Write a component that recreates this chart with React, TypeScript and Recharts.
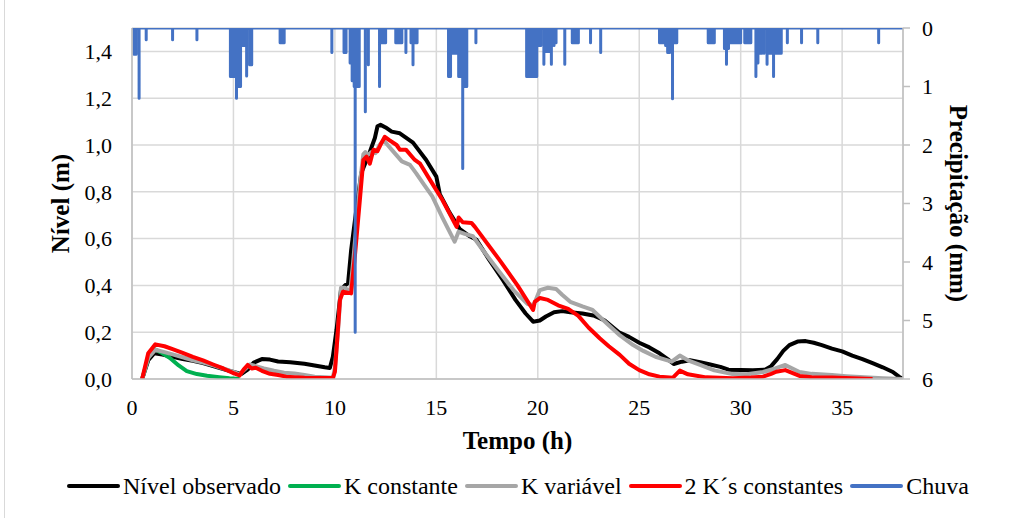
import React from "react";
import { LineChart, Line, XAxis, YAxis, CartesianGrid } from "recharts";

const FONT = '"Liberation Serif", "Times New Roman", serif';

// tempo (h), nível (m)
const nivelObservado: [number, number][] = [
  [0.5, 0], [0.8, 0.08], [1.1, 0.11], [1.5, 0.105], [2, 0.095], [2.5, 0.085], [3, 0.078],
  [3.5, 0.068], [4, 0.055], [4.5, 0.042], [5, 0.03], [5.4, 0.022], [5.7, 0.04], [6.0, 0.07],
  [6.4, 0.085], [6.8, 0.083], [7.2, 0.075], [7.8, 0.072], [8.5, 0.065], [9, 0.058], [9.5, 0.05],
  [9.75, 0.047], [9.9, 0.095], [10.08, 0.21], [10.3, 0.38], [10.5, 0.4], [10.65, 0.41],
  [10.8, 0.55], [11.05, 0.72], [11.3, 0.88], [11.7, 0.965], [11.97, 1.03], [12.1, 1.08],
  [12.25, 1.086], [12.5, 1.075], [12.8, 1.057], [13.2, 1.05], [13.85, 1.01], [14.5, 0.936],
  [15.0, 0.865], [15.17, 0.79], [15.66, 0.71], [16.16, 0.64], [16.65, 0.61], [16.98, 0.595],
  [17.6, 0.51], [18.3, 0.42], [18.9, 0.338], [19.4, 0.28], [19.77, 0.245], [20.1, 0.25],
  [20.4, 0.267], [20.8, 0.285], [21.2, 0.29], [21.6, 0.285], [22.2, 0.28], [22.8, 0.27],
  [23.3, 0.25], [24.0, 0.2], [24.5, 0.18], [25.0, 0.155], [25.5, 0.135], [26.0, 0.11],
  [26.4, 0.085], [26.7, 0.064], [27.1, 0.074], [27.5, 0.08], [28.0, 0.072], [28.5, 0.062],
  [29.0, 0.052], [29.4, 0.04], [30.0, 0.038], [30.6, 0.037], [31.2, 0.04], [31.5, 0.055],
  [31.8, 0.085], [32.1, 0.12], [32.4, 0.145], [32.8, 0.16], [33.2, 0.162], [33.6, 0.155],
  [34.0, 0.145], [34.5, 0.13], [35.0, 0.118], [35.5, 0.1], [36.0, 0.085], [36.5, 0.068],
  [37.0, 0.05], [37.5, 0.03], [37.8, 0.01], [38.0, 0],
];

const kConstante: [number, number][] = [
  [0.5, 0], [0.8, 0.09], [1.1, 0.128], [1.4, 0.115], [1.87, 0.09], [2.3, 0.058], [2.7, 0.034],
  [3.2, 0.021], [3.7, 0.014], [4.3, 0.008], [4.8, 0.003], [5.3, 0],
];

const kVariavel: [number, number][] = [
  [0.5, 0], [0.8, 0.09], [1.15, 0.125], [1.6, 0.115], [2, 0.105], [2.5, 0.093], [3, 0.08],
  [3.5, 0.07], [4, 0.058], [4.5, 0.045], [5, 0.03], [5.3, 0.02], [5.6, 0.045], [5.8, 0.062],
  [6.1, 0.055], [6.5, 0.045], [7, 0.035], [7.5, 0.027], [8, 0.024], [8.5, 0.017], [9, 0.01],
  [9.5, 0.007], [9.9, 0.005], [10.0, 0.05], [10.15, 0.2], [10.3, 0.39], [10.5, 0.39],
  [10.75, 0.37], [10.9, 0.5], [11.1, 0.7], [11.25, 0.85], [11.4, 0.96], [11.5, 0.97],
  [11.6, 0.955], [11.8, 0.97], [12.0, 0.965], [12.2, 1.0], [12.4, 1.02], [12.6, 1.0],
  [12.85, 0.975], [13.0, 0.96], [13.3, 0.93], [13.7, 0.915], [14.0, 0.88], [14.4, 0.83],
  [14.8, 0.78], [15.3, 0.69], [15.9, 0.587], [16.1, 0.63], [16.4, 0.62], [16.8, 0.61],
  [17.3, 0.55], [18, 0.47], [18.8, 0.38], [19.5, 0.32], [19.8, 0.316], [20.1, 0.38],
  [20.5, 0.39], [20.9, 0.385], [21.2, 0.36], [21.6, 0.33], [22.2, 0.31], [22.7, 0.295],
  [23.05, 0.266], [23.5, 0.23], [24.0, 0.19], [24.7, 0.145], [25.2, 0.12], [25.8, 0.095],
  [26.6, 0.074], [27.0, 0.1], [27.4, 0.08], [28.0, 0.06], [28.7, 0.037], [29.6, 0.021],
  [30.3, 0.02], [31.1, 0.03], [31.7, 0.045], [32.2, 0.06], [32.9, 0.03], [33.5, 0.022],
  [34.5, 0.017], [35.2, 0.012], [36.1, 0.007], [37, 0.003], [38, 0],
];

const doisKConstantes: [number, number][] = [
  [0.5, 0], [0.8, 0.11], [1.15, 0.148], [1.6, 0.14], [2, 0.128], [2.5, 0.112], [3, 0.095],
  [3.5, 0.08], [4, 0.062], [4.5, 0.045], [5, 0.025], [5.3, 0.015], [5.5, 0.04], [5.7, 0.06],
  [5.9, 0.045], [6.1, 0.048], [6.4, 0.035], [6.8, 0.022], [7.2, 0.017], [7.6, 0.01],
  [8, 0.008], [8.5, 0.005], [9, 0.004], [9.9, 0.004], [10.0, 0.03], [10.08, 0.124],
  [10.25, 0.338], [10.4, 0.373], [10.8, 0.366], [10.98, 0.52], [11.23, 0.765], [11.4, 0.935],
  [11.56, 0.95], [11.72, 0.92], [11.9, 0.98], [12.1, 0.974], [12.3, 1.01], [12.46, 1.035],
  [12.7, 1.02], [13.04, 1.0], [13.2, 0.98], [13.5, 0.98], [13.94, 0.936], [14.2, 0.92],
  [14.8, 0.835], [15.3, 0.765], [16.0, 0.65], [16.1, 0.69], [16.3, 0.67], [16.73, 0.667],
  [16.9, 0.65], [18.1, 0.51], [19.0, 0.4], [19.77, 0.295], [19.85, 0.33], [20.1, 0.346],
  [20.5, 0.338], [21.0, 0.315], [21.5, 0.3], [22.0, 0.27], [22.5, 0.22], [23.05, 0.174],
  [23.5, 0.14], [24.04, 0.103], [24.5, 0.065], [25.0, 0.038], [25.5, 0.02], [26.0, 0.01],
  [26.65, 0.005], [27.0, 0.036], [27.4, 0.02], [28.3, 0.007], [29.6, 0.003], [30.5, 0.006],
  [31.1, 0.01], [31.5, 0.022], [31.75, 0.031], [32.2, 0.038], [32.9, 0.013], [33.5, 0.008],
  [34.5, 0.006], [35.5, 0.003], [36.5, 0],
];

// chuva: instante (h) e lâmina (mm)
const chuvaTempo = [
  0.1, 0.2, 0.35, 0.7, 2.0, 3.2,
  4.85, 4.95, 5.05, 5.15, 5.25, 5.35, 5.45, 5.55, 5.65, 5.8, 5.9,
  7.3, 7.4, 7.5, 9.85, 10.45, 10.55,
  10.75, 10.85, 10.95, 11.0, 11.1, 11.2, 11.5, 11.65,
  12.2, 12.3, 12.4, 12.5, 13.0, 13.1, 13.2, 13.3, 13.5, 13.75, 13.85, 13.95, 14.05,
  15.6, 15.7, 15.8, 15.9, 16.0, 16.1, 16.2, 16.3, 16.4, 16.5, 16.95,
  19.45, 19.55, 19.65, 19.75, 19.85, 19.95, 20.05, 20.15, 20.3, 20.4, 20.5, 20.6, 20.67,
  20.8, 20.9, 21.33, 21.7, 21.8, 21.9, 22.0, 22.6, 23.1,
  26.0, 26.1, 26.2, 26.3, 26.4, 26.5, 26.64, 26.75, 26.85,
  28.4, 28.5, 28.6, 28.7,
  29.2, 29.3, 29.4, 29.5, 29.6, 29.7, 29.8, 29.9, 30.0, 30.2, 30.3, 30.4, 30.5,
  30.75, 30.85, 30.95, 31.05, 31.15, 31.3, 31.4, 31.5, 31.62, 31.7, 31.8, 31.9, 32.0,
  32.3, 33.0, 33.8, 36.8,
];
const chuvaMm = [
  0.45, 0.45, 1.2, 0.2, 0.2, 0.2,
  0.83, 0.83, 0.83, 1.2, 1.0, 1.0, 0.3, 0.3, 0.82, 0.63, 0.63,
  0.25, 0.25, 0.25, 0.42, 0.42, 0.42,
  0.6, 0.9, 1.0, 5.2, 1.0, 1.0, 1.43, 0.63,
  1.0, 0.25, 0.25, 0.25, 0.25, 0.25, 0.25, 0.25, 0.42, 0.25, 0.63, 0.25, 0.25,
  0.83, 0.83, 0.43, 0.43, 0.43, 0.83, 0.83, 2.4, 1.0, 1.0, 0.25,
  0.83, 0.83, 0.83, 0.83, 0.83, 0.83, 0.3, 0.3, 0.62, 0.4, 0.4, 0.4, 0.62,
  0.3, 0.25, 0.62, 0.25, 0.25, 0.25, 0.25, 0.25, 0.42,
  0.25, 0.25, 0.25, 0.3, 0.42, 0.42, 1.21, 0.25, 0.25,
  0.25, 0.25, 0.25, 0.25,
  0.35, 0.62, 0.35, 0.25, 0.25, 0.25, 0.25, 0.25, 0.25, 0.25, 0.25, 0.25, 0.25,
  0.83, 0.6, 0.43, 0.43, 0.43, 0.62, 0.43, 0.43, 0.83, 0.43, 0.43, 0.43, 0.43,
  0.25, 0.25, 0.25, 0.25,
];

const xTicks = [0, 5, 10, 15, 20, 25, 30, 35];
const nivelTicks = [0, 0.2, 0.4, 0.6, 0.8, 1.0, 1.2, 1.4];
const chuvaTicks = [0, 1, 2, 3, 4, 5, 6];

const toPts = (arr: [number, number][]) => arr.map(([t, v]) => ({ t, v }));

// each rain value is drawn as a spike hanging from the top axis
const chuvaData = (() => {
  const pts: { t: number; mm: number }[] = [{ t: 0, mm: 0 }];
  chuvaTempo.forEach((t, i) => {
    pts.push({ t, mm: 0 }, { t, mm: chuvaMm[i] }, { t, mm: 0 });
  });
  pts.push({ t: 38, mm: 0 });
  return pts;
})();

const series = [
  { name: "Nível observado", color: "#000000", data: toPts(nivelObservado) },
  { name: "K constante", color: "#00b050", data: toPts(kConstante) },
  { name: "K variável", color: "#a6a6a6", data: toPts(kVariavel) },
  { name: "2 K´s constantes", color: "#ff0000", data: toPts(doisKConstantes) },
];

const tickStyle = { fontSize: 22, fill: "#000", fontFamily: FONT };
const titleStyle = { fontSize: 25, fontWeight: "bold", fill: "#000", fontFamily: FONT, textAnchor: "middle" } as any;
const axisStroke = { stroke: "#bfbfbf", strokeWidth: 1.5 };

const fmt = (v: number) => v.toFixed(1).replace(".", ",");

export default function App() {
  return (
    <div style={{ position: "absolute", left: 0, top: 0, width: 1017, height: 518, background: "#fff", fontFamily: FONT }}>
      <div style={{ position: "absolute", left: 4, top: 0, width: 1, height: 518, background: "#d9d9d9" }} />
      <LineChart width={1017} height={518} margin={{ top: 28, right: 0, bottom: 0, left: 0 }}>
        <CartesianGrid xAxisId="x" yAxisId="left" stroke="#d9d9d9" strokeWidth={1.5} />
        <XAxis
          xAxisId="x"
          type="number"
          dataKey="t"
          domain={[0, 38]}
          ticks={xTicks}
          allowDataOverflow
          height={139}
          tickLine={false}
          tickSize={0}
          tickMargin={20}
          axisLine={axisStroke}
          tick={tickStyle}
          label={{ value: "Tempo (h)", position: "insideTop", offset: 52, style: titleStyle }}
        />
        <YAxis
          yAxisId="left"
          domain={[0, 1.5]}
          ticks={nivelTicks}
          allowDataOverflow
          width={132}
          tickLine={false}
          tickSize={0}
          tickMargin={20}
          axisLine={axisStroke}
          tick={tickStyle}
          tickFormatter={fmt}
          label={{ value: "Nível (m)", angle: -90, position: "insideLeft", offset: 60, style: titleStyle }}
        />
        <YAxis
          yAxisId="right"
          orientation="right"
          domain={[0, 6]}
          ticks={chuvaTicks}
          reversed
          allowDataOverflow
          width={114}
          tickLine={axisStroke}
          tickSize={7}
          tickMargin={12}
          axisLine={axisStroke}
          tick={tickStyle}
          label={{ value: "Precipitação (mm)", angle: 90, position: "insideRight", offset: 58, style: titleStyle }}
        />
        {series.map((s) => (
          <Line
            key={s.name}
            xAxisId="x"
            yAxisId="left"
            data={s.data}
            dataKey="v"
            name={s.name}
            type="linear"
            stroke={s.color}
            strokeWidth={4}
            strokeLinejoin="round"
            dot={false}
            isAnimationActive={false}
          />
        ))}
        <Line
          xAxisId="x"
          yAxisId="right"
          data={chuvaData}
          dataKey="mm"
          name="Chuva"
          type="linear"
          stroke="#4472c4"
          strokeWidth={3}
          strokeLinejoin="round"
          strokeLinecap="round"
          dot={false}
          isAnimationActive={false}
        />
      </LineChart>
      <div
        style={{
          position: "absolute",
          left: 67,
          top: 472,
          height: 28,
          display: "flex",
          alignItems: "center",
          fontSize: 24,
          color: "#000",
          whiteSpace: "nowrap",
        }}
      >
        {[...series, { name: "Chuva", color: "#4472c4" }].map((s) => (
          <div key={s.name} style={{ display: "flex", alignItems: "center", marginRight: 7 }}>
            <div style={{ width: 53, height: 4, background: s.color, borderRadius: 2, marginRight: 3 }} />
            <span>{s.name}</span>
          </div>
        ))}
      </div>
    </div>
  );
}
